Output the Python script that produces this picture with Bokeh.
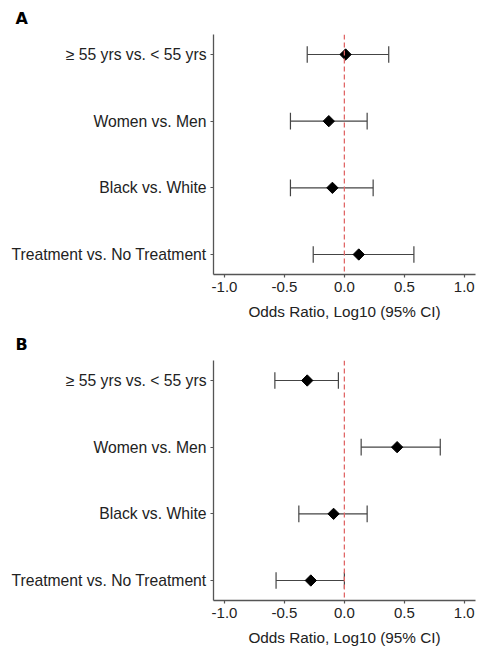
import numpy as np
from bokeh.plotting import figure
from bokeh.models import Range1d, FixedTicker, Span
from bokeh.layouts import column
from bokeh.embed import file_html
from bokeh.resources import INLINE

# ---- data ----
categories = ["≥ 55 yrs vs. < 55 yrs", "Women vs. Men", "Black vs. White",
              "Treatment vs. No Treatment"]
a_est = [0.01, -0.13, -0.10, 0.12]
a_lo = [-0.31, -0.45, -0.45, -0.26]
a_hi = [0.37, 0.19, 0.24, 0.58]
b_est = [-0.31, 0.44, -0.09, -0.28]
b_lo = [-0.58, 0.14, -0.38, -0.57]
b_hi = [-0.05, 0.80, 0.19, 0.00]
x_ticks = [-1.0, -0.5, 0.0, 0.5, 1.0]
panel_labels = ["A", "B"]
x_title = "Odds Ratio, Log10 (95% CI)"

FONT = "Liberation Sans"
TXT = "#222222"
AX = "#555555"
BAR = "#444444"

ypos = list(range(len(categories), 0, -1))   # top category drawn at top
cap = 0.125


def panel(label, est, lo, hi, height, top, bottom, title_standoff):
    p = figure(width=484, height=height,
               x_range=Range1d(-1.092, 1.094), y_range=Range1d(0.7, 4.3),
               output_backend="svg", toolbar_location=None,
               min_border_left=213, min_border_right=9,
               min_border_top=top, min_border_bottom=bottom)
    p.outline_line_color = None
    p.grid.visible = False
    p.background_fill_color = "white"

    # error bars
    p.segment(x0=lo, y0=ypos, x1=hi, y1=ypos, line_color=BAR, line_width=1.2)
    p.segment(x0=lo, y0=[y - cap for y in ypos], x1=lo, y1=[y + cap for y in ypos],
              line_color=BAR, line_width=1.2)
    p.segment(x0=hi, y0=[y - cap for y in ypos], x1=hi, y1=[y + cap for y in ypos],
              line_color=BAR, line_width=1.2)
    # point estimates (diamonds)
    p.scatter(x=est, y=ypos, marker="square", angle=np.pi / 4, size=8,
              fill_color="black", line_color="black")

    p.add_layout(Span(location=0, dimension="height", line_color="#E06666",
                      line_dash="5 3", line_width=1.3))

    # axes
    p.xaxis.ticker = FixedTicker(ticks=x_ticks)
    p.xaxis.major_label_overrides = {t: f"{t:.1f}" for t in x_ticks}
    p.yaxis.ticker = FixedTicker(ticks=ypos)
    p.yaxis.major_label_overrides = {y: c for y, c in zip(ypos, categories)}
    p.xaxis.axis_label = x_title
    for ax in (p.xaxis, p.yaxis):
        ax.axis_line_color = AX
        ax.axis_line_width = 1.3
        ax.major_tick_line_color = AX
        ax.major_tick_line_width = 1.2
        ax.major_tick_out = 3
        ax.major_tick_in = 0
        ax.minor_tick_line_color = None
        ax.major_label_text_font = FONT
        ax.major_label_text_color = TXT
        ax.axis_label_text_font = FONT
        ax.axis_label_text_font_size = "15.3px"
        ax.axis_label_text_font_style = "normal"
        ax.axis_label_text_color = TXT
    p.xaxis.major_label_text_font_size = "15px"
    p.yaxis.major_label_text_font_size = "15.7px"
    p.xaxis.major_label_standoff = 4
    p.yaxis.major_label_standoff = 4
    p.xaxis.axis_label_standoff = 8

    p.title.text = label
    p.title.align = "left"
    p.title.offset = -198
    p.title.text_font = "DejaVu Sans"
    p.title.text_font_style = "bold"
    p.title.text_font_size = "16px"
    p.title.text_color = "black"
    p.title.standoff = title_standoff
    return p


pa = panel(panel_labels[0], a_est, a_lo, a_hi, 324, 33, 50, 13)
pb = panel(panel_labels[1], b_est, b_lo, b_hi, 324, 36, 48, 14)

layout = column(pa, pb, spacing=0)
open("out.html", "w").write(file_html(layout, INLINE))
